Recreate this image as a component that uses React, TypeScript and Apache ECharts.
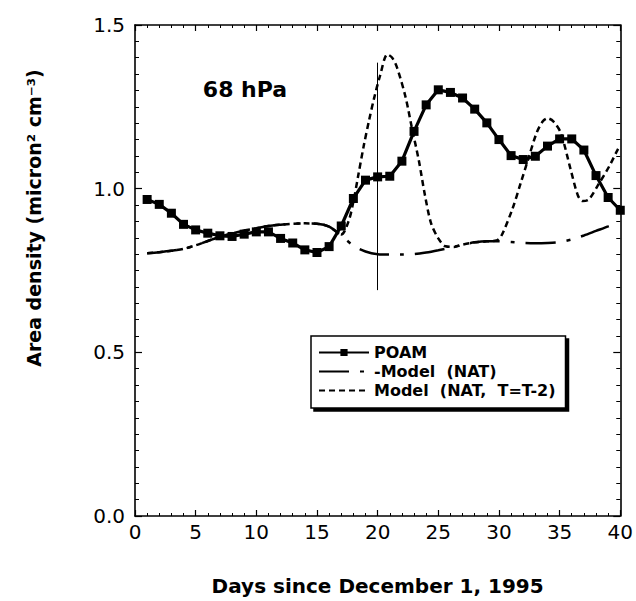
import React, { useEffect, useRef } from "react";
import * as echarts from "echarts";

const days: number[] = Array.from({ length: 40 }, (_, i) => i + 1);

const poamValues: number[] = [
  0.967, 0.952, 0.925, 0.891, 0.874, 0.864, 0.856, 0.854, 0.861, 0.868,
  0.868, 0.848, 0.834, 0.813, 0.805, 0.823, 0.886, 0.97, 1.026, 1.036,
  1.038, 1.084, 1.175, 1.256, 1.302, 1.294, 1.277, 1.243, 1.201, 1.15,
  1.101, 1.089, 1.099, 1.13, 1.152, 1.152, 1.118, 1.04, 0.973, 0.934,
];

const natPoints: [number, number][] = [
  [1, 0.803], [2, 0.806], [3, 0.81], [4, 0.816], [5, 0.827], [6, 0.84],
  [7, 0.853], [8, 0.863], [9, 0.872], [10, 0.879], [11, 0.886], [12, 0.89],
  [13, 0.893], [14, 0.894], [15, 0.893], [16, 0.884], [17, 0.857], [18, 0.826],
  [19, 0.808], [20, 0.8], [21, 0.799], [22, 0.799], [23, 0.8], [24, 0.805],
  [25, 0.812], [26, 0.82], [27, 0.829], [28, 0.836], [29, 0.839], [30, 0.839],
  [31, 0.837], [32, 0.834], [33, 0.833], [34, 0.834], [35, 0.837], [36, 0.845],
  [37, 0.857], [38, 0.871], [39, 0.885], [39.5, 0.893],
];

const natT2Points: [number, number][] = [
  [1, 0.803], [2, 0.806], [3, 0.81], [4, 0.816], [5, 0.827], [6, 0.84],
  [7, 0.853], [8, 0.863], [9, 0.872], [10, 0.879], [11, 0.886], [12, 0.89],
  [13, 0.893], [14, 0.894], [15, 0.893], [16, 0.884], [17, 0.86], [17.6, 0.9],
  [18, 0.96], [18.4, 1.04], [18.85, 1.13], [19.3, 1.21], [19.7, 1.275],
  [20.2, 1.345], [20.8, 1.41], [21.2, 1.4], [21.6, 1.37], [22.3, 1.28],
  [22.8, 1.19], [23.4, 1.085], [23.9, 0.98], [24.4, 0.895], [25, 0.848],
  [25.6, 0.824], [26.3, 0.822], [27, 0.829], [28, 0.836], [29, 0.839],
  [29.8, 0.842], [30.2, 0.856], [31.1, 0.937], [31.8, 1.018], [32.4, 1.089],
  [33.1, 1.17], [33.6, 1.205], [34, 1.215], [34.5, 1.205], [35.1, 1.17],
  [35.9, 1.06], [36.5, 0.98], [36.9, 0.962], [37.4, 0.967], [38.2, 1.013],
  [39.1, 1.069], [39.8, 1.12], [40, 1.13],
];

const xTicks: number[] = [0, 5, 10, 15, 20, 25, 30, 35, 40];
const yTickLabels: string[] = ["0.0", "0.5", "1.0", "1.5"];
const seriesNames: string[] = [
  "POAM",
  "-Model\u00a0\u00a0(NAT)",
  "Model\u00a0\u00a0(NAT,\u00a0\u00a0T=T-2)",
];
const markerDay = 20;
const markerRange: [number, number] = [0.69, 1.385];

const FONT = "'DejaVu Sans', Verdana, sans-serif";

export default function App() {
  const ref = useRef<HTMLDivElement>(null);

  useEffect(() => {
    if (!ref.current) return;
    const chart = echarts.init(ref.current, undefined, { renderer: "svg" });

    const axisLineStyle = { color: "#000", width: 1.6 };
    const xBase = {
      type: "value" as const,
      min: xTicks[0],
      max: xTicks[xTicks.length - 1],
      interval: 5,
      axisLine: { show: true, onZero: false, lineStyle: axisLineStyle },
      axisTick: { show: true, inside: true, length: 6, lineStyle: { color: "#000", width: 1.2 } },
      minorTick: { show: true, splitNumber: 5, length: 3, lineStyle: { color: "#000", width: 1 } },
      splitLine: { show: false },
    };
    const yBase = {
      type: "value" as const,
      min: 0,
      max: 1.5,
      interval: 0.5,
      axisLine: { show: true, onZero: false, lineStyle: axisLineStyle },
      axisTick: { show: true, inside: true, length: 7, lineStyle: { color: "#000", width: 1.2 } },
      minorTick: { show: true, splitNumber: 10, length: 4, lineStyle: { color: "#000", width: 1 } },
      splitLine: { show: false },
    };

    chart.setOption({
      animation: false,
      backgroundColor: "#fff",
      grid: { left: 135, right: 13, top: 25, bottom: 83 },
      xAxis: [
        {
          ...xBase,
          position: "bottom",
          name: "Days since December 1, 1995",
          nameLocation: "middle",
          nameGap: 60,
          nameTextStyle: { fontFamily: FONT, fontWeight: "bold", fontSize: 20, color: "#000" },
          axisLabel: {
            show: true,
            margin: 6,
            fontFamily: FONT,
            fontSize: 20,
            color: "#000",
            formatter: (v: number) => (xTicks.includes(v) ? String(v) : ""),
          },
        },
        { ...xBase, position: "top", axisLabel: { show: false } },
      ],
      yAxis: [
        {
          ...yBase,
          position: "left",
          axisLabel: {
            show: true,
            margin: 10,
            fontFamily: FONT,
            fontSize: 20,
            color: "#000",
            formatter: (v: number) => yTickLabels[Math.round(v / 0.5)] ?? "",
          },
        },
        { ...yBase, position: "right", axisLabel: { show: false } },
      ],
      legend: {
        show: true,
        orient: "vertical",
        left: 311,
        top: 336,
        selectedMode: false,
        itemWidth: 50,
        itemHeight: 9,
        itemGap: 0,
        padding: [7, 10, 8, 7],
        backgroundColor: "#fff",
        borderColor: "#000",
        borderWidth: 1.5,
        borderRadius: 0,
        shadowColor: "#000",
        shadowBlur: 0,
        shadowOffsetX: 3,
        shadowOffsetY: 3,
        textStyle: {
          fontFamily: FONT,
          fontWeight: "bold",
          fontSize: 16,
          lineHeight: 19,
          color: "#000",
        },
        data: [
          { name: seriesNames[0] },
          { name: seriesNames[1], itemStyle: { opacity: 0 } },
          { name: seriesNames[2], itemStyle: { opacity: 0 } },
        ],
      },
      graphic: [
        {
          type: "text",
          x: 245,
          y: 89,
          style: {
            text: "68 hPa",
            fontFamily: FONT,
            fontWeight: "bold",
            fontSize: 22,
            fill: "#000",
            textAlign: "center",
            textVerticalAlign: "middle",
          },
        },
        {
          type: "text",
          x: 34,
          y: 218,
          rotation: Math.PI / 2,
          style: {
            text: "Area density (micron² cm⁻³)",
            fontFamily: FONT,
            fontWeight: "bold",
            fontSize: 19,
            fill: "#000",
            textAlign: "center",
            textVerticalAlign: "middle",
          },
        },
      ],
      series: [
        {
          name: seriesNames[2],
          type: "line",
          data: natT2Points,
          smooth: 0.3,
          showSymbol: false,
          symbol: "none",
          lineStyle: { color: "#000", width: 2.5, type: [6, 4] },
          itemStyle: { color: "#000" },
          z: 2,
        },
        {
          name: seriesNames[1],
          type: "line",
          data: natPoints,
          smooth: 0.3,
          showSymbol: false,
          symbol: "none",
          lineStyle: { color: "#000", width: 2.5, type: [30, 11, 4, 11] },
          itemStyle: { color: "#000" },
          z: 3,
        },
        {
          name: seriesNames[0],
          type: "line",
          data: days.map((d, i) => [d, poamValues[i]]),
          smooth: false,
          symbol: "rect",
          symbolSize: 9,
          lineStyle: { color: "#000", width: 3.2 },
          itemStyle: { color: "#000" },
          z: 4,
          markLine: {
            silent: true,
            symbol: ["none", "none"],
            label: { show: false },
            lineStyle: { color: "#000", width: 1, type: "solid" },
            data: [
              [
                { coord: [markerDay, markerRange[0]] },
                { coord: [markerDay, markerRange[1]] },
              ],
            ],
          },
        },
      ],
    });

    return () => {
      chart.dispose();
    };
  }, []);

  return (
    <div
      ref={ref}
      style={{ position: "fixed", left: 0, top: 0, width: 636, height: 601, background: "#fff" }}
    />
  );
}
